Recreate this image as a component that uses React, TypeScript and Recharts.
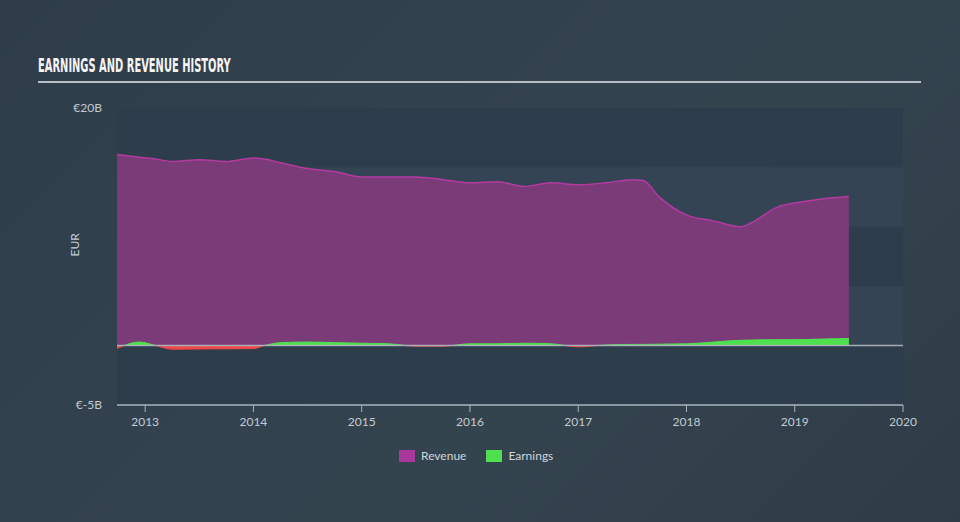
import React from 'react';
import { ComposedChart, Area, XAxis, YAxis, ReferenceArea, ReferenceLine } from 'recharts';

const years = [2012.74, 2012.95, 2013.1, 2013.25, 2013.5, 2013.75, 2014.0, 2014.1, 2014.25, 2014.5, 2014.75, 2015.0, 2015.25, 2015.5, 2015.75, 2016.0, 2016.25, 2016.5, 2016.75, 2017.0, 2017.25, 2017.5, 2017.6, 2017.75, 2018.0, 2018.25, 2018.5, 2018.6, 2018.85, 2019.0, 2019.25, 2019.5];
const revenue = [16.08, 15.85, 15.7, 15.5, 15.65, 15.5, 15.8, 15.7, 15.4, 14.9, 14.65, 14.2, 14.2, 14.2, 13.97, 13.7, 13.8, 13.4, 13.7, 13.55, 13.7, 13.97, 13.9, 12.5, 11.0, 10.5, 10.0, 10.35, 11.7, 12.0, 12.35, 12.55];
const earnings = [-0.25, 0.3, 0.0, -0.3, -0.28, -0.27, -0.25, 0.0, 0.25, 0.3, 0.25, 0.2, 0.15, -0.05, -0.05, 0.15, 0.15, 0.2, 0.15, -0.1, 0.05, 0.1, 0.1, 0.12, 0.15, 0.3, 0.45, 0.47, 0.5, 0.5, 0.55, 0.6];
const xTicks = [2013, 2014, 2015, 2016, 2017, 2018, 2019, 2020];
const yTicks = [-5, 20];
const bands = [
  { y1: 15, y2: 20, fill: '#2e3d4c' },
  { y1: 10, y2: 15, fill: '#344454' },
  { y1: 5, y2: 10, fill: '#2e3d4c' },
  { y1: 0, y2: 5, fill: '#344454' },
  { y1: -5, y2: 0, fill: '#2e3d4c' },
];

const data = years.map((x, i) => ({ x, revenue: revenue[i], earnings: earnings[i] }));
const eMax = Math.max(...earnings, 0);
const eMin = Math.min(...earnings, 0);
const zeroOff = eMax / (eMax - eMin);

const font = 'Lato, "Open Sans", sans-serif';

export default function App() {
  return (
    <div style={{ position: 'absolute', left: 0, top: 0, width: 960, height: 522, background: 'linear-gradient(135deg, #2f3d4b 0%, #34444f 60%, #2f3c48 100%)', fontFamily: font }}>
      <div style={{ position: 'absolute', left: 38, top: 54, fontFamily: '"Liberation Sans Narrow", "DejaVu Sans Condensed", sans-serif', fontWeight: 'bold', fontSize: 19, color: '#f4f4f4', whiteSpace: 'nowrap', transform: 'scaleX(0.58)', transformOrigin: 'left' }}>
        EARNINGS AND REVENUE HISTORY
      </div>
      <div style={{ position: 'absolute', left: 38, top: 81, width: 883, height: 2, background: '#b8bec6' }} />
      <ComposedChart width={960} height={522} data={data} margin={{ top: 108, right: 57, bottom: 87, left: 0 }} style={{ position: 'absolute', left: 0, top: 0 }}>
        <defs>
          <linearGradient id="earnGrad" x1="0" y1="0" x2="0" y2="1">
            <stop offset={0} stopColor="#4fe04f" />
            <stop offset={zeroOff} stopColor="#4fe04f" />
            <stop offset={zeroOff} stopColor="#f04848" />
            <stop offset={1} stopColor="#f04848" />
          </linearGradient>
        </defs>
        {bands.map((b, i) => (
          <ReferenceArea key={i} y1={b.y1} y2={b.y2} fill={b.fill} fillOpacity={1} stroke="none" ifOverflow="hidden" />
        ))}
        <XAxis dataKey="x" type="number" domain={[2012.74, 2020]} ticks={xTicks} allowDataOverflow height={30}
          tick={{ fill: '#c3cad2', fontSize: 12, fontFamily: font }} tickLine={{ stroke: '#aab4c0' }} axisLine={{ stroke: '#aab4c0', strokeWidth: 1.5 }} tickSize={7} tickMargin={5} />
        <YAxis type="number" domain={[-5, 20]} ticks={yTicks} width={117} axisLine={false} tickLine={false} tickMargin={9}
          tickFormatter={(v: number) => `€${v}B`} tick={{ fill: '#c3cad2', fontSize: 12, fontFamily: font }}
          label={{ value: 'EUR', angle: -90, position: 'insideLeft', offset: 75, fill: '#c3cad2', fontSize: 12, fontFamily: font }} />
        <Area dataKey="revenue" type="monotone" stroke="#b43aa2" strokeWidth={1.5} fill="#7b3a78" fillOpacity={1} isAnimationActive={false} dot={false} activeDot={false} />
        <Area dataKey="earnings" type="monotone" stroke="url(#earnGrad)" strokeWidth={1} fill="url(#earnGrad)" fillOpacity={1} baseValue={0} isAnimationActive={false} dot={false} activeDot={false} />
        <ReferenceLine y={0} stroke="#a8aeb6" strokeWidth={1.5} />
      </ComposedChart>
      <div style={{ position: 'absolute', left: 399, top: 448, display: 'flex', alignItems: 'center', fontSize: 12, color: '#d0d4da', fontFamily: font }}>
        <span style={{ display: 'inline-block', width: 16, height: 12, background: '#a9369a', marginRight: 6 }} />
        <span style={{ marginRight: 20 }}>Revenue</span>
        <span style={{ display: 'inline-block', width: 16, height: 12, background: '#4fe04f', marginRight: 6 }} />
        <span>Earnings</span>
      </div>
    </div>
  );
}
